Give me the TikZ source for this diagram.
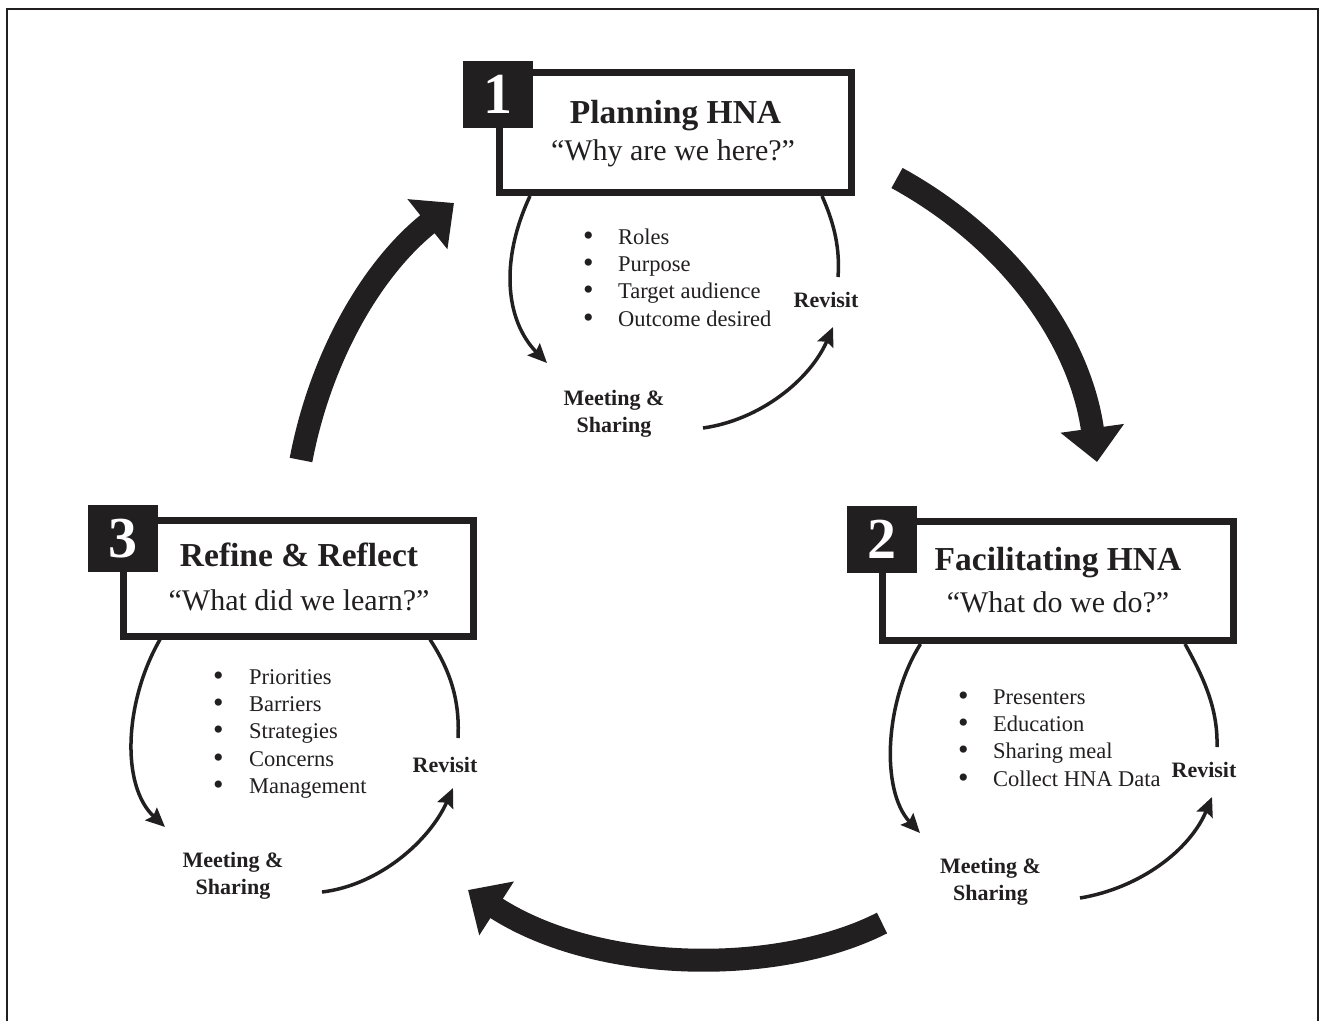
\documentclass[tikz,border=0pt]{standalone}
\usepackage{fontspec}
\setmainfont{Liberation Serif}
\usetikzlibrary{arrows.meta}
\definecolor{ink}{RGB}{34,31,32}
\newcommand{\bul}{\raisebox{-1pt}{\fontsize{30}{27.3}\selectfont •}}
\begin{document}
\begin{tikzpicture}[x=1pt,y=-1pt,
  outerframe/.style={draw=ink, line width=2pt},
  stagebox/.style={draw=ink, line width=7pt, inner sep=0pt},
  numsq/.style={fill=ink, text=white, inner sep=0pt, minimum width=70pt, minimum height=67pt,
    font=\fontsize{58}{60}\selectfont\bfseries},
  stagetitle/.style={text=ink, font=\fontsize{33.5}{36}\selectfont\bfseries, inner sep=0pt, anchor=base},
  stagesub/.style={text=ink, font=\fontsize{30}{33}\selectfont, inner sep=0pt, anchor=base},
  itemlist/.style={text=ink, font=\fontsize{22.5}{27.3}\selectfont, inner sep=0pt, anchor=north west},
  smallbold/.style={text=ink, font=\fontsize{22}{27}\selectfont\bfseries, inner sep=0pt},
  cyclearc/.style={draw=ink, line width=3.5pt},
  cyclearrow/.style={cyclearc, -{Stealth[length=19pt,width=17pt,inset=3pt]}},
  bigarrow/.style={draw=ink, line width=23pt, -{Triangle[width=62pt,length=34pt]}},
]
\useasboundingbox (0,0) rectangle (1319,1021);
\draw[outerframe] (7,1021) -- (7,9) -- (1318,9) -- (1318,1021);

% ---------- stage boxes ----------
\node[stagebox, minimum width=352pt, minimum height=120.5pt] (box1) at (675.5,132.25) {};
\node[stagebox, minimum width=351.5pt, minimum height=119pt] (box2) at (1057.75,581) {};
\node[stagebox, minimum width=350pt, minimum height=116pt] (box3) at (298.5,578) {};

\node[numsq] (n1) at (498,94.5) {1};
\node[numsq] (n2) at (882,539.5) {2};
\node[numsq] (n3) at (123,538.5) {3};

\node[stagetitle] (t1) at (675.5,123) {Planning HNA};
\node[stagesub] (q1) at (673,160) {“Why are we here?”};
\node[stagetitle] (t2) at (1058,570) {Facilitating HNA};
\node[stagesub] (q2) at (1058,612) {“What do we do?”};
\node[stagetitle] (t3) at (299,566) {Refine \& Reflect};
\node[stagesub] (q3) at (299,610) {“What did we learn?”};

% ---------- item lists ----------
\node[itemlist] (l1) at (583,225) {\begin{tabular}{@{}p{35pt}@{}l@{}}\bul&Roles\\\bul&Purpose\\\bul&Target audience\\\bul&Outcome desired\end{tabular}};
\node[itemlist] (l2) at (958,685) {\begin{tabular}{@{}p{35pt}@{}l@{}}\bul&Presenters\\\bul&Education\\\bul&Sharing meal\\\bul&Collect HNA Data\end{tabular}};
\node[itemlist] (l3) at (213,665) {\begin{tabular}{@{}p{36pt}@{}l@{}}\bul&Priorities\\\bul&Barriers\\\bul&Strategies\\\bul&Concerns\\\bul&Management\end{tabular}};

% ---------- small labels ----------
\node[smallbold, anchor=base] (r1) at (826,307) {Revisit};
\node[smallbold, anchor=base] (r2) at (1204,777) {Revisit};
\node[smallbold, anchor=base] (r3) at (445,772) {Revisit};
\node[smallbold, align=center, anchor=north] (m1) at (614,386.1) {\strut Meeting \&\\\strut Sharing};
\node[smallbold, align=center, anchor=north] (m2) at (990.5,854.1) {\strut Meeting \&\\\strut Sharing};
\node[smallbold, align=center, anchor=north] (m3) at (233,848.1) {\strut Meeting \&\\\strut Sharing};

% ---------- small cycle arcs ----------
\coordinate (a1) at (547,363);  \coordinate (e1) at (838,277);
\coordinate (s1) at (703,428);  \coordinate (b1) at (833,327);
\coordinate (a2) at (920,833);  \coordinate (e2) at (1217,747);
\coordinate (s2) at (1080,898); \coordinate (b2) at (1212,797);
\coordinate (a3) at (165,827);  \coordinate (e3) at (458,738);
\coordinate (s3) at (322,892);  \coordinate (b3) at (453,788);

\draw[cyclearrow] ([xshift=34pt]box1.south west) .. controls (500,260) and (505,320) .. (a1);
\draw[cyclearc] ([xshift=-33pt]box1.south east) .. controls (835,225) and (840,250) .. (e1);
\draw[cyclearrow] (s1) .. controls (760,420) and (810,380) .. (b1);

\draw[cyclearrow] ([xshift=42pt]box2.south west) .. controls (885,700) and (880,790) .. (a2);
\draw[cyclearc] ([xshift=-52pt]box2.south east) .. controls (1205,680) and (1218,710) .. (e2);
\draw[cyclearrow] (s2) .. controls (1140,888) and (1190,850) .. (b2);

\draw[cyclearrow] ([xshift=40pt]box3.south west) .. controls (125,700) and (120,785) .. (a3);
\draw[cyclearc] ([xshift=-47pt]box3.south east) .. controls (450,670) and (460,700) .. (e3);
\draw[cyclearrow] (s3) .. controls (380,885) and (430,840) .. (b3);

% ---------- big cycle arrows ----------
\coordinate (A12s) at (897,178);  \coordinate (A12e) at (1097,462);
\coordinate (A23s) at (882,923);  \coordinate (A23e) at (468,890);
\coordinate (A31s) at (301,460);  \coordinate (A31e) at (454,203);
\draw[bigarrow] (A12s) .. controls (1010,240) and (1080,340) .. (A12e);
\draw[bigarrow] (A23s) .. controls (780,975) and (600,975) .. (A23e);
\draw[bigarrow] (A31s) .. controls (320,360) and (370,270) .. (A31e);
\end{tikzpicture}
\end{document}
